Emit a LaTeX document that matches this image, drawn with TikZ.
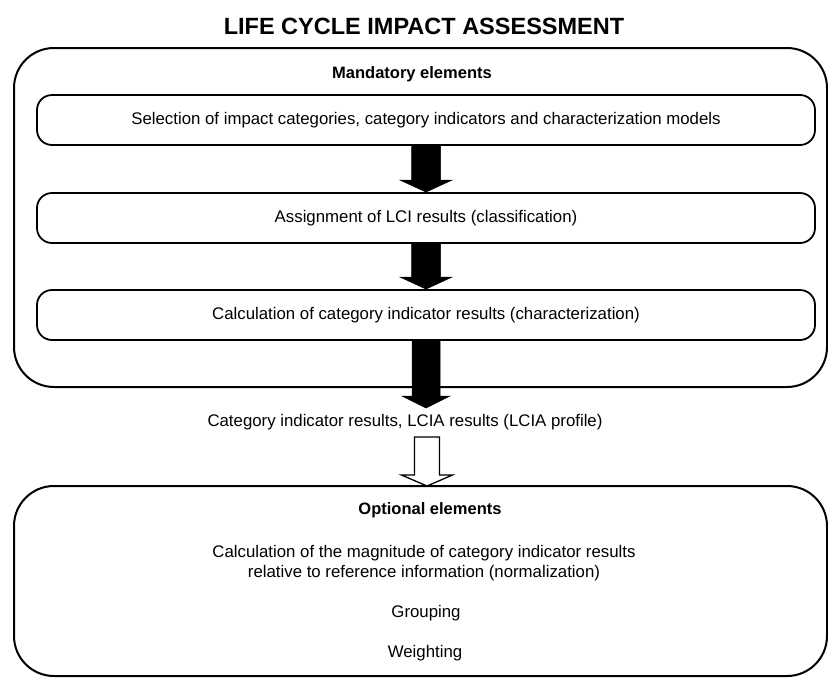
\documentclass[tikz,border=0pt]{standalone}
\usepackage{fontspec}
\setmainfont{Liberation Sans}
\usetikzlibrary{calc}
\newcommand\fatarrow[6]{% from, to, shaft half width, head half width, head length, style
  \path[#6] ($(#1)+(-#3,0)$) -- ($(#2)+(-#3,-#5)$) -- ($(#2)+(-#4,-#5)$) -- (#2)
    -- ($(#2)+(#4,-#5)$) -- ($(#2)+(#3,-#5)$) -- ($(#1)+(#3,0)$) -- cycle;}
\begin{document}
\begin{tikzpicture}[x=1pt,y=-1pt,
  outerbox/.style={draw, line width=2pt, rounded corners=40pt, inner sep=0pt, minimum width=813pt},
  stepbox/.style={draw, line width=1.8pt, rounded corners=15pt, fill=white, minimum width=778pt,
    minimum height=50pt, inner sep=0pt, font=\fontsize{16.8}{20}\selectfont},
  txt/.style={font=\fontsize{16.8}{20}\selectfont, inner sep=0pt, align=center},
  hd/.style={font=\bfseries\fontsize{16.5}{20}\selectfont, inner sep=0pt},
  solidarrow/.style={fill=black, draw=black, line width=0.5pt},
  hollowarrow/.style={fill=white, draw=black, line width=1.3pt, line join=miter}]
\useasboundingbox (0,0) rectangle (828,678);

\node[font=\bfseries\fontsize{23.5}{28}\selectfont, inner sep=0pt] (title) at (424,26) {LIFE CYCLE IMPACT ASSESSMENT};

% mandatory elements
\node[outerbox, minimum height=339pt] (mand) at (420.5,217.5) {};
\node[hd] (mandhd) at (412,74) {Mandatory elements};
\node[stepbox] (b1) at (426,120) {Selection of impact categories, category indicators and characterization models};
\node[stepbox] (b2) at (426,218) {Assignment of LCI results (classification)};
\node[stepbox] (b3) at (426,315) {Calculation of category indicator results (characterization)};

\coordinate (a3tip) at (426,408);
\fatarrow{b1.south}{b2.north}{14.5}{26}{12}{solidarrow}
\fatarrow{b2.south}{b3.north}{14.5}{26}{12}{solidarrow}
\fatarrow{b3.south}{a3tip}{14}{24}{12}{solidarrow}

\node[txt] (res) at (405,422) {Category indicator results, LCIA results (LCIA profile)};

% optional elements
\node[outerbox, minimum height=190pt] (opt) at (420.5,581) {};
\coordinate (h0) at (427,437);
\coordinate (htip) at (427,486);
\fatarrow{h0}{htip}{12.5}{25.5}{11}{hollowarrow}

\node[hd] (opthd) at (430,510) {Optional elements};
\node[txt] (norm) at (424,563) {Calculation of the magnitude of category indicator results\\relative to reference information (normalization)};
\node[txt] (grp) at (426,613) {Grouping};
\node[txt] (wgt) at (425,653) {Weighting};
\end{tikzpicture}
\end{document}
